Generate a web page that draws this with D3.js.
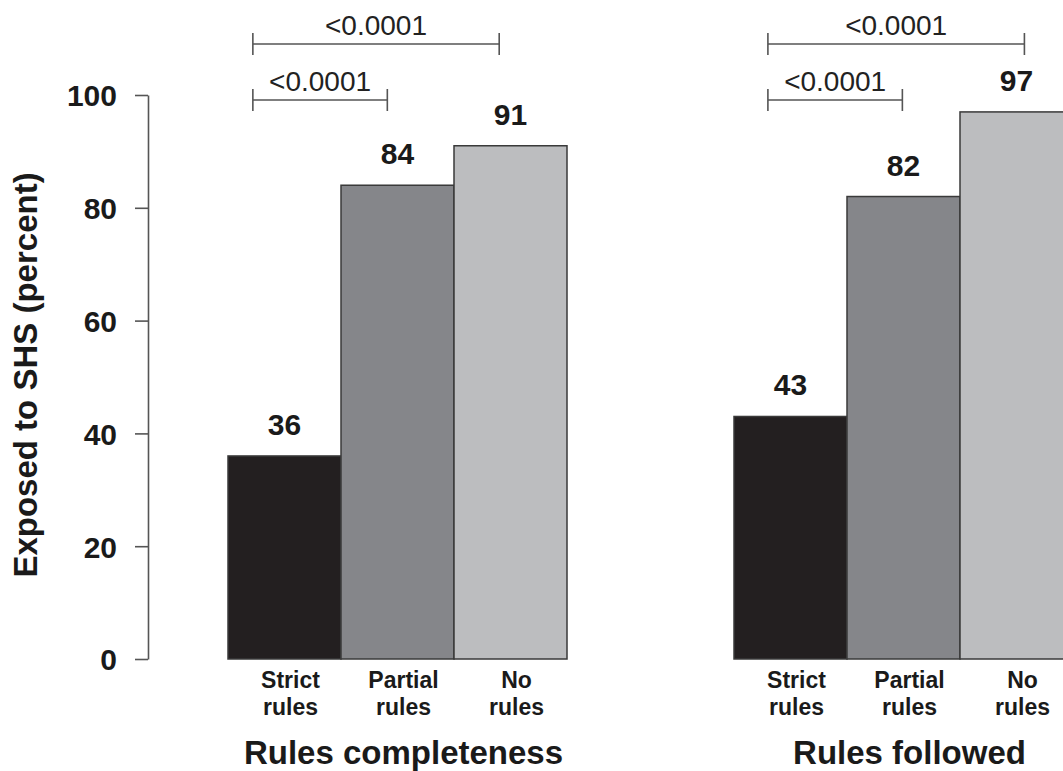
<!DOCTYPE html>
<html>
<head>
<meta charset="utf-8">
<script src="https://cdn.jsdelivr.net/npm/d3@7"></script>
<style>
  html, body { margin: 0; padding: 0; background: #fff; }
  svg { display: block; font-family: "Liberation Sans", Arial, Helvetica, sans-serif; }
</style>
</head>
<body>
<svg id="chart" width="1063" height="771"></svg>
<script>
// Share of children exposed to second-hand smoke, by household smoking rules
const categories = ["Strict rules", "Partial rules", "No rules"];
const completenessValues = [36, 84, 91];
const followedValues = [43, 82, 97];
const panelTitles = ["Rules completeness", "Rules followed"];
const yTicks = [0, 20, 40, 60, 80, 100];
const pLabels = ["<0.0001", "<0.0001"];
// bracket ends given as positions on the category axis (index + fraction of band)
const completenessBrackets = [[0.22, 1.41], [0.22, 2.4]];
const followedBrackets = [[0.3, 1.49], [0.3, 2.57]];

const colors = ["#231f20", "#85868a", "#bcbdbf"];

const svg = d3.select("#chart");

const y = d3.scaleLinear().domain([0, 100]).range([659, 95]);

// y axis
const axisX = 148;
const yAxis = svg.append("g").attr("transform", `translate(${axisX},0)`)
  .call(d3.axisLeft(y).tickValues(yTicks).tickSize(13).tickPadding(18).tickSizeOuter(0));
yAxis.select(".domain").attr("stroke", "#555").attr("stroke-width", 1.6);
yAxis.selectAll(".tick line").attr("stroke", "#555").attr("stroke-width", 1.6);
yAxis.selectAll(".tick text")
  .attr("font-size", 30).attr("font-weight", "bold").attr("fill", "#1a1a1a")
  .attr("font-family", "Liberation Sans, Arial, sans-serif")
  .attr("dy", "0.36em");

svg.append("text")
  .attr("transform", "translate(37,375) rotate(-90)")
  .attr("text-anchor", "middle")
  .attr("font-size", 33).attr("font-weight", "bold").attr("fill", "#1a1a1a")
  .text("Exposed to SHS (percent)");

function panel(values, title, brackets, range) {
  const x = d3.scaleBand().domain(categories).range(range).paddingInner(0).paddingOuter(0);
  const g = svg.append("g");
  const bw = x.bandwidth();

  g.selectAll("rect").data(values).join("rect")
    .attr("x", (d, i) => x(categories[i]))
    .attr("y", d => y(d))
    .attr("width", bw)
    .attr("height", d => y(0) - y(d))
    .attr("fill", (d, i) => colors[i])
    .attr("stroke", "#3a3a3a")
    .attr("stroke-width", 1.5);

  g.selectAll("text.val").data(values).join("text")
    .attr("class", "val")
    .attr("x", (d, i) => x(categories[i]) + bw / 2)
    .attr("y", d => y(d) - 21)
    .attr("text-anchor", "middle")
    .attr("font-size", 30).attr("font-weight", "bold").attr("fill", "#1a1a1a")
    .text(d => d);

  // two-line category labels under each bar
  categories.forEach(c => {
    c.split(" ").forEach((w, k) => {
      g.append("text")
        .attr("x", x(c) + bw / 2 + 6)
        .attr("y", 688 + k * 27)
        .attr("text-anchor", "middle")
        .attr("font-size", 23).attr("font-weight", "bold").attr("fill", "#1a1a1a")
        .text(w);
    });
  });

  g.append("text")
    .attr("x", (range[0] + range[1]) / 2 + 6)
    .attr("y", 764)
    .attr("text-anchor", "middle")
    .attr("font-size", 33).attr("font-weight", "bold").attr("fill", "#1a1a1a")
    .text(title);

  // significance brackets
  const pos = v => {
    const i = Math.floor(v);
    return x(categories[i]) + (v - i) * bw;
  };
  const levels = [100, 44];
  brackets.forEach((b, k) => {
    const x1 = pos(b[0]), x2 = pos(b[1]), ly = levels[k];
    const path = d3.path();
    path.moveTo(x1, ly - 11); path.lineTo(x1, ly + 11);
    path.moveTo(x1, ly); path.lineTo(x2, ly);
    path.moveTo(x2, ly - 11); path.lineTo(x2, ly + 11);
    g.append("path").attr("d", path.toString())
      .attr("fill", "none").attr("stroke", "#555").attr("stroke-width", 1.6);
    g.append("text")
      .attr("x", (x1 + x2) / 2)
      .attr("y", ly - 9)
      .attr("text-anchor", "middle")
      .attr("font-size", 28).attr("fill", "#222")
      .text(pLabels[k]);
  });
}

panel(completenessValues, panelTitles[0], completenessBrackets, [228, 567]);
panel(followedValues, panelTitles[1], followedBrackets, [734, 1073]);
</script>
</body>
</html>
